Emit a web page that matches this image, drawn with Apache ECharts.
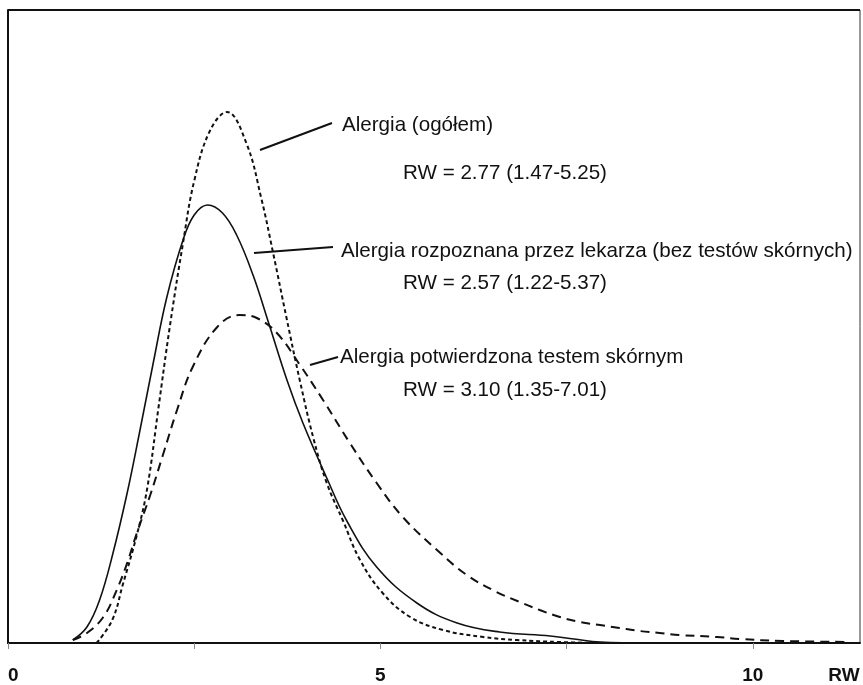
<!DOCTYPE html>
<html>
<head>
<meta charset="utf-8">
<script src="https://cdn.jsdelivr.net/npm/echarts@6/dist/echarts.min.js"></script>
<style>
html,body{margin:0;padding:0;background:#fff;}
#chart{width:863px;height:685px;}
</style>
</head>
<body>
<div id="chart"></div>
<script>
// Curve values: [RW, relative density height]
const ogolemX = [1.19,1.40,1.54,1.73,1.87,2.02,2.17,2.35,2.50,2.71,2.94,3.20,3.40,3.56,3.74,3.92,4.10,4.28,4.50,4.72,5.03,5.40,5.84,6.38,6.83,7.41,7.95];
const ogolemY = [0,23,58,108,155,235,315,400,462,512,531,500,445,390,325,262,205,160,122,84,50,26,13,6,3,1,0];

const lekarzX = [0.87,1.06,1.23,1.41,1.60,1.77,1.95,2.13,2.35,2.50,2.68,2.88,3.07,3.29,3.50,3.75,3.96,4.28,4.55,4.95,5.49,6.03,6.60,7.28,7.60,7.95,8.62];
const lekarzY = [3,16,43,90,150,212,280,345,403,428,438,430,408,368,320,262,220,165,122,76,40,20,11,7,4,1,0];

const skoraX = [0.87,1.06,1.28,1.46,1.60,1.73,1.91,2.08,2.27,2.48,2.81,3.11,3.34,3.61,3.92,4.23,4.59,4.95,5.30,5.76,6.16,6.56,6.87,7.14,7.41,7.68,7.95,8.21,8.48,8.75,9.02,9.52,9.83,10.40,11.30];
const skoraY = [3,10,26,53,80,110,148,188,233,276,316,328,325,310,278,243,200,160,126,93,68,51,41,33,26,21,18,15,12,10,8,6,4,2,1];

const tickValues = [0, 2.5, 5, 7.5, 10];
const tickLabels = ['0', '', '5', '', '10'];
const axisName = 'RW';

const labels = [
  'Alergia (ogółem)',
  'RW = 2.77 (1.47-5.25)',
  'Alergia rozpoznana przez lekarza (bez testów skórnych)',
  'RW = 2.57 (1.22-5.37)',
  'Alergia potwierdzona testem skórnym',
  'RW = 3.10 (1.35-7.01)'
];

function pairs(xs, ys){ return xs.map((x,i)=>[x, ys[i]]); }

const chart = echarts.init(document.getElementById('chart'));
const FONT = '"Liberation Sans", Arial, sans-serif';

const option = {
  animation: false,
  backgroundColor: '#fff',
  grid: { left: 8, top: 10, width: 852, height: 633, show: true, borderColor: '#333', borderWidth: 1, containLabel: false },
  xAxis: {
    type: 'value', min: 0, max: 11.44, interval: 2.5,
    axisLine: { show: true, onZero: false, lineStyle: { color: '#111', width: 2 } },
    axisTick: { show: true, length: 6, lineStyle: { color: '#888', width: 1 } },
    splitLine: { show: false },
    axisLabel: {
      show: true, margin: 23, showMaxLabel: false, alignMinLabel: 'left',
      fontFamily: FONT, fontWeight: 'bold', fontSize: 19, color: '#111',
      formatter: function(v){ const i = tickValues.indexOf(v); return i >= 0 ? tickLabels[i] : ''; }
    }
  },
  yAxis: {
    type: 'value', min: 0, max: 633,
    axisLine: { show: true, lineStyle: { color: '#111', width: 2 } },
    axisTick: { show: false }, axisLabel: { show: false }, splitLine: { show: false }
  },
  series: [
    { type: 'line', name: labels[0], data: pairs(ogolemX, ogolemY), smooth: 0.4, symbol: 'none',
      lineStyle: { color: '#111', width: 2, type: [4, 3] } },
    { type: 'line', name: labels[2], data: pairs(lekarzX, lekarzY), smooth: 0.4, symbol: 'none',
      lineStyle: { color: '#111', width: 1.6, type: 'solid' } },
    { type: 'line', name: labels[4], data: pairs(skoraX, skoraY), smooth: 0.4, symbol: 'none',
      lineStyle: { color: '#111', width: 2, type: [9, 6] } }
  ]
};
chart.setOption(option);

const textStyle = (t, x, y) => ({ type: 'text', x: x, y: y, style: { text: t, font: '20.6px ' + FONT, fill: '#111', textVerticalAlign: 'middle' } });
const lineEl = (x1,y1,x2,y2) => ({ type: 'line', shape: { x1: x1, y1: y1, x2: x2, y2: y2 }, style: { stroke: '#111', lineWidth: 2 } });

chart.setOption({
  graphic: [
    { type: 'line', shape: { x1: 8, y1: 10, x2: 860, y2: 10 }, style: { stroke: '#111', lineWidth: 2 } },
    lineEl(260,150,332,123),
    textStyle(labels[0], 342, 125),
    textStyle(labels[1], 403, 173),
    lineEl(254,253,333,247),
    textStyle(labels[2], 341, 251),
    textStyle(labels[3], 403, 283),
    lineEl(310,365,338,357),
    textStyle(labels[4], 340, 357),
    textStyle(labels[5], 403, 390),
    { type: 'text', x: 844, y: 676, style: { text: axisName, font: 'bold 19px ' + FONT, fill: '#111', textAlign: 'center', textVerticalAlign: 'middle' } }
  ]
});
</script>
</body>
</html>
